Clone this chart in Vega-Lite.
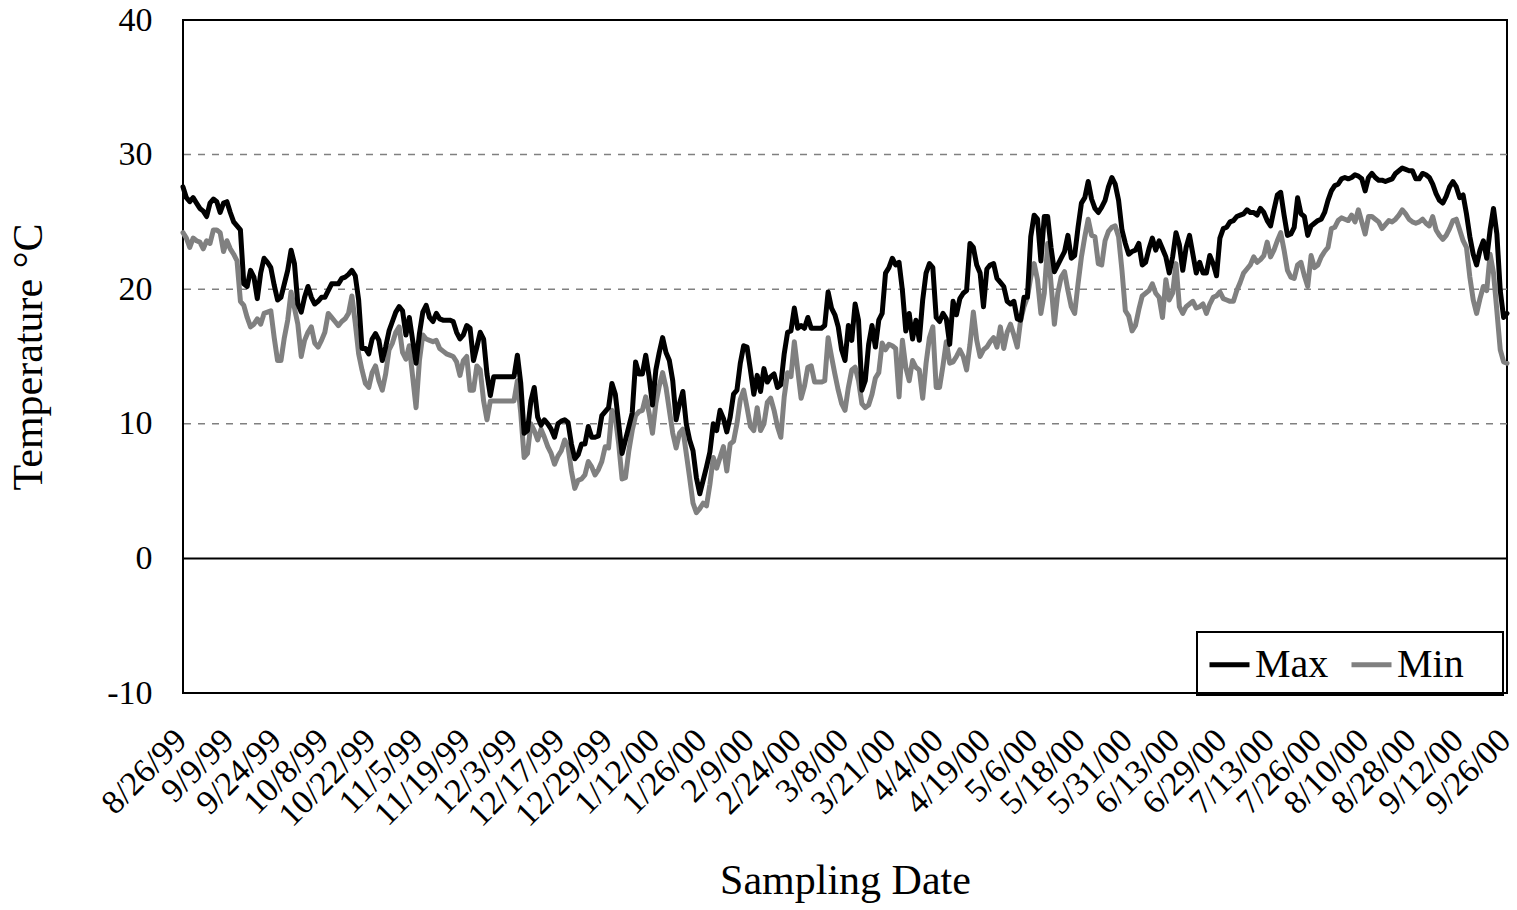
{
  "$schema": "https://vega.github.io/schema/vega-lite/v6.json",
  "width": 1324,
  "height": 673,
  "autosize": {"type": "none"},
  "padding": {"left": 183, "top": 20, "right": 10, "bottom": 217},
  "background": "#ffffff",
  "config": {
    "font": "Liberation Serif",
    "view": {"stroke": "#000000", "strokeWidth": 2},
    "axis": {
      "labelFont": "Liberation Serif",
      "titleFont": "Liberation Serif",
      "labelColor": "#000000",
      "titleColor": "#000000",
      "titleFontWeight": "normal",
      "labelFontSize": 34,
      "titleFontSize": 42,
      "grid": false,
      "ticks": false,
      "domain": false
    }
  },
  "datasets": {
    "temps": [
      {"n":0,"Max":27.6,"Min":24.2},{"n":1,"Max":26.8,"Min":23.8},{"n":2,"Max":26.5,"Min":23.1},{"n":3,"Max":26.8,"Min":23.8},{"n":4,"Max":26.4,"Min":23.6},
      {"n":5,"Max":26.0,"Min":23.5},{"n":6,"Max":25.8,"Min":23.0},{"n":7,"Max":25.4,"Min":23.6},{"n":8,"Max":26.4,"Min":23.4},{"n":9,"Max":26.7,"Min":24.4},
      {"n":10,"Max":26.5,"Min":24.4},{"n":11,"Max":25.7,"Min":24.2},{"n":12,"Max":26.4,"Min":22.8},{"n":13,"Max":26.5,"Min":23.6},{"n":14,"Max":25.7,"Min":23.0},
      {"n":15,"Max":25.0,"Min":22.6},{"n":16,"Max":24.7,"Min":22.1},{"n":17,"Max":24.4,"Min":19.1},{"n":18,"Max":20.4,"Min":18.8},{"n":19,"Max":20.2,"Min":17.9},
      {"n":20,"Max":21.4,"Min":17.2},{"n":21,"Max":20.9,"Min":17.4},{"n":22,"Max":19.3,"Min":17.8},{"n":23,"Max":21.2,"Min":17.4},{"n":24,"Max":22.3,"Min":18.2},
      {"n":25,"Max":22.0,"Min":18.3},{"n":26,"Max":21.6,"Min":18.4},{"n":27,"Max":20.3,"Min":16.4},{"n":28,"Max":19.2,"Min":14.7},{"n":29,"Max":19.4,"Min":14.7},
      {"n":30,"Max":20.4,"Min":16.4},{"n":31,"Max":21.4,"Min":17.7},{"n":32,"Max":22.9,"Min":19.8},{"n":33,"Max":21.9,"Min":18.6},{"n":34,"Max":18.9,"Min":17.4},
      {"n":35,"Max":18.3,"Min":15.0},{"n":36,"Max":19.4,"Min":16.2},{"n":37,"Max":20.2,"Min":16.8},{"n":38,"Max":19.4,"Min":17.2},{"n":39,"Max":18.9,"Min":16.0},
      {"n":40,"Max":19.1,"Min":15.7},{"n":41,"Max":19.4,"Min":16.2},{"n":42,"Max":19.4,"Min":16.8},{"n":43,"Max":19.9,"Min":18.2},{"n":44,"Max":20.4,"Min":17.9},
      {"n":45,"Max":20.4,"Min":17.6},{"n":46,"Max":20.4,"Min":17.3},{"n":47,"Max":20.8,"Min":17.6},{"n":48,"Max":20.9,"Min":17.8},{"n":49,"Max":21.1,"Min":18.2},
      {"n":50,"Max":21.4,"Min":19.5},{"n":51,"Max":21.0,"Min":17.5},{"n":52,"Max":19.2,"Min":15.2},{"n":53,"Max":15.6,"Min":14.0},{"n":54,"Max":15.6,"Min":13.0},
      {"n":55,"Max":15.2,"Min":12.7},{"n":56,"Max":16.3,"Min":13.8},{"n":57,"Max":16.7,"Min":14.3},{"n":58,"Max":16.2,"Min":13.2},{"n":59,"Max":14.7,"Min":12.5},
      {"n":60,"Max":15.7,"Min":13.7},{"n":61,"Max":16.9,"Min":15.5},{"n":62,"Max":17.6,"Min":16.0},{"n":63,"Max":18.3,"Min":16.8},{"n":64,"Max":18.7,"Min":17.2},
      {"n":65,"Max":18.4,"Min":15.3},{"n":66,"Max":16.6,"Min":14.8},{"n":67,"Max":17.9,"Min":15.8},{"n":68,"Max":16.2,"Min":13.5},{"n":69,"Max":14.5,"Min":11.2},
      {"n":70,"Max":16.7,"Min":14.7},{"n":71,"Max":18.3,"Min":16.6},{"n":72,"Max":18.8,"Min":16.3},{"n":73,"Max":17.9,"Min":16.2},{"n":74,"Max":17.6,"Min":16.1},
      {"n":75,"Max":18.2,"Min":16.2},{"n":76,"Max":17.8,"Min":15.6},{"n":77,"Max":17.7,"Min":15.4},{"n":78,"Max":17.7,"Min":15.2},{"n":79,"Max":17.7,"Min":15.1},
      {"n":80,"Max":17.6,"Min":15.0},{"n":81,"Max":16.8,"Min":14.6},{"n":82,"Max":16.3,"Min":13.6},{"n":83,"Max":16.6,"Min":14.7},{"n":84,"Max":17.3,"Min":15.0},
      {"n":85,"Max":17.1,"Min":12.5},{"n":86,"Max":14.7,"Min":12.5},{"n":87,"Max":15.7,"Min":14.3},{"n":88,"Max":16.8,"Min":14.0},{"n":89,"Max":16.3,"Min":11.7},
      {"n":90,"Max":13.7,"Min":10.3},{"n":91,"Max":12.1,"Min":11.7},{"n":92,"Max":13.5,"Min":11.7},{"n":93,"Max":13.5,"Min":11.7},{"n":94,"Max":13.5,"Min":11.7},
      {"n":95,"Max":13.5,"Min":11.7},{"n":96,"Max":13.5,"Min":11.7},{"n":97,"Max":13.5,"Min":11.7},{"n":98,"Max":13.5,"Min":11.7},{"n":99,"Max":15.1,"Min":13.2},
      {"n":100,"Max":13.0,"Min":10.8},{"n":101,"Max":9.3,"Min":7.5},{"n":102,"Max":9.5,"Min":7.8},{"n":103,"Max":11.7,"Min":10.0},{"n":104,"Max":12.7,"Min":9.5},
      {"n":105,"Max":10.5,"Min":8.8},{"n":106,"Max":9.9,"Min":9.6},{"n":107,"Max":10.3,"Min":9.0},{"n":108,"Max":10.0,"Min":8.3},{"n":109,"Max":9.6,"Min":7.8},
      {"n":110,"Max":9.0,"Min":7.0},{"n":111,"Max":10.0,"Min":7.6},{"n":112,"Max":10.2,"Min":8.0},{"n":113,"Max":10.3,"Min":8.8},{"n":114,"Max":10.1,"Min":8.3},
      {"n":115,"Max":8.5,"Min":6.5},{"n":116,"Max":7.4,"Min":5.2},{"n":117,"Max":7.7,"Min":5.8},{"n":118,"Max":8.5,"Min":5.9},{"n":119,"Max":8.5,"Min":6.2},
      {"n":120,"Max":9.8,"Min":7.2},{"n":121,"Max":9.0,"Min":6.8},{"n":122,"Max":9.0,"Min":6.2},{"n":123,"Max":9.1,"Min":6.6},{"n":124,"Max":10.6,"Min":7.2},
      {"n":125,"Max":10.9,"Min":8.3},{"n":126,"Max":11.2,"Min":8.2},{"n":127,"Max":13.0,"Min":11.0},{"n":128,"Max":12.2,"Min":10.5},{"n":129,"Max":10.0,"Min":8.5},
      {"n":130,"Max":7.8,"Min":5.9},{"n":131,"Max":8.8,"Min":6.0},{"n":132,"Max":9.8,"Min":8.0},{"n":133,"Max":10.8,"Min":9.5},{"n":134,"Max":14.6,"Min":10.6},
      {"n":135,"Max":13.7,"Min":10.9},{"n":136,"Max":13.7,"Min":11.0},{"n":137,"Max":15.1,"Min":12.0},{"n":138,"Max":13.5,"Min":10.8},{"n":139,"Max":11.4,"Min":9.3},
      {"n":140,"Max":14.0,"Min":11.5},{"n":141,"Max":15.3,"Min":12.8},{"n":142,"Max":16.4,"Min":13.8},{"n":143,"Max":15.3,"Min":12.7},{"n":144,"Max":14.7,"Min":11.0},
      {"n":145,"Max":13.2,"Min":9.3},{"n":146,"Max":10.3,"Min":8.2},{"n":147,"Max":11.5,"Min":9.3},{"n":148,"Max":12.4,"Min":9.6},{"n":149,"Max":10.0,"Min":7.8},
      {"n":150,"Max":8.8,"Min":6.0},{"n":151,"Max":8.0,"Min":4.1},{"n":152,"Max":6.0,"Min":3.4},{"n":153,"Max":4.8,"Min":3.7},{"n":154,"Max":5.8,"Min":4.1},
      {"n":155,"Max":6.8,"Min":3.9},{"n":156,"Max":7.9,"Min":5.5},{"n":157,"Max":10.0,"Min":7.5},{"n":158,"Max":9.5,"Min":6.7},{"n":159,"Max":11.0,"Min":7.5},
      {"n":160,"Max":10.4,"Min":8.3},{"n":161,"Max":9.4,"Min":6.5},{"n":162,"Max":10.5,"Min":8.5},{"n":163,"Max":12.2,"Min":8.7},{"n":164,"Max":12.5,"Min":10.0},
      {"n":165,"Max":14.5,"Min":11.8},{"n":166,"Max":15.8,"Min":12.5},{"n":167,"Max":15.7,"Min":11.2},{"n":168,"Max":14.0,"Min":9.8},{"n":169,"Max":12.2,"Min":9.5},
      {"n":170,"Max":13.6,"Min":11.2},{"n":171,"Max":12.4,"Min":9.5},{"n":172,"Max":14.1,"Min":10.0},{"n":173,"Max":13.1,"Min":11.6},{"n":174,"Max":13.5,"Min":11.9},
      {"n":175,"Max":13.7,"Min":11.0},{"n":176,"Max":12.7,"Min":9.8},{"n":177,"Max":12.9,"Min":9.0},{"n":178,"Max":15.2,"Min":12.0},{"n":179,"Max":16.8,"Min":13.8},
      {"n":180,"Max":16.9,"Min":13.5},{"n":181,"Max":18.6,"Min":16.1},{"n":182,"Max":17.1,"Min":14.0},{"n":183,"Max":17.3,"Min":11.9},{"n":184,"Max":17.1,"Min":12.8},
      {"n":185,"Max":17.9,"Min":14.2},{"n":186,"Max":17.1,"Min":14.3},{"n":187,"Max":17.1,"Min":13.1},{"n":188,"Max":17.1,"Min":13.1},{"n":189,"Max":17.1,"Min":13.1},
      {"n":190,"Max":17.3,"Min":13.2},{"n":191,"Max":19.8,"Min":16.4},{"n":192,"Max":18.6,"Min":15.0},{"n":193,"Max":18.1,"Min":13.7},{"n":194,"Max":17.2,"Min":12.5},
      {"n":195,"Max":15.5,"Min":11.5},{"n":196,"Max":14.7,"Min":11.0},{"n":197,"Max":17.3,"Min":12.7},{"n":198,"Max":16.2,"Min":14.0},{"n":199,"Max":18.9,"Min":14.2},
      {"n":200,"Max":17.7,"Min":13.2},{"n":201,"Max":12.5,"Min":11.5},{"n":202,"Max":13.2,"Min":11.2},{"n":203,"Max":15.9,"Min":11.4},{"n":204,"Max":17.3,"Min":12.2},
      {"n":205,"Max":15.7,"Min":13.4},{"n":206,"Max":17.7,"Min":13.8},{"n":207,"Max":18.2,"Min":16.0},{"n":208,"Max":21.2,"Min":15.5},{"n":209,"Max":21.6,"Min":15.9},
      {"n":210,"Max":22.3,"Min":15.8},{"n":211,"Max":21.8,"Min":15.6},{"n":212,"Max":22.0,"Min":12.0},{"n":213,"Max":19.9,"Min":16.2},{"n":214,"Max":16.9,"Min":14.2},
      {"n":215,"Max":18.2,"Min":13.2},{"n":216,"Max":16.3,"Min":14.7},{"n":217,"Max":17.7,"Min":14.2},{"n":218,"Max":16.2,"Min":14.0},{"n":219,"Max":19.2,"Min":11.9},
      {"n":220,"Max":21.2,"Min":14.5},{"n":221,"Max":21.9,"Min":16.4},{"n":222,"Max":21.6,"Min":17.2},{"n":223,"Max":17.9,"Min":12.7},{"n":224,"Max":17.6,"Min":12.7},
      {"n":225,"Max":18.2,"Min":14.3},{"n":226,"Max":17.8,"Min":16.1},{"n":227,"Max":15.9,"Min":14.5},{"n":228,"Max":19.1,"Min":14.6},{"n":229,"Max":18.1,"Min":15.0},
      {"n":230,"Max":19.3,"Min":15.5},{"n":231,"Max":19.7,"Min":15.0},{"n":232,"Max":19.9,"Min":14.0},{"n":233,"Max":23.4,"Min":15.9},{"n":234,"Max":23.1,"Min":18.3},
      {"n":235,"Max":21.8,"Min":16.2},{"n":236,"Max":21.2,"Min":15.0},{"n":237,"Max":18.7,"Min":15.5},{"n":238,"Max":21.5,"Min":15.7},{"n":239,"Max":21.8,"Min":16.1},
      {"n":240,"Max":21.9,"Min":16.4},{"n":241,"Max":20.8,"Min":15.7},{"n":242,"Max":20.5,"Min":17.2},{"n":243,"Max":20.2,"Min":15.6},{"n":244,"Max":19.1,"Min":16.8},
      {"n":245,"Max":18.9,"Min":17.4},{"n":246,"Max":19.1,"Min":16.6},{"n":247,"Max":17.8,"Min":15.7},{"n":248,"Max":17.7,"Min":17.7},{"n":249,"Max":19.4,"Min":18.7},
      {"n":250,"Max":19.4,"Min":19.4},{"n":251,"Max":23.9,"Min":20.9},{"n":252,"Max":25.5,"Min":21.9},{"n":253,"Max":25.2,"Min":20.7},{"n":254,"Max":22.1,"Min":18.2},
      {"n":255,"Max":25.4,"Min":19.7},{"n":256,"Max":25.4,"Min":23.4},{"n":257,"Max":23.1,"Min":20.4},{"n":258,"Max":21.3,"Min":17.4},{"n":259,"Max":21.8,"Min":19.7},
      {"n":260,"Max":22.3,"Min":20.9},{"n":261,"Max":22.8,"Min":21.3},{"n":262,"Max":24.0,"Min":19.9},{"n":263,"Max":22.3,"Min":18.7},{"n":264,"Max":22.5,"Min":18.2},
      {"n":265,"Max":24.6,"Min":20.4},{"n":266,"Max":26.4,"Min":22.4},{"n":267,"Max":26.8,"Min":23.9},{"n":268,"Max":28.0,"Min":25.2},{"n":269,"Max":26.7,"Min":24.0},
      {"n":270,"Max":26.0,"Min":23.9},{"n":271,"Max":25.7,"Min":21.9},{"n":272,"Max":26.1,"Min":21.8},{"n":273,"Max":26.6,"Min":23.6},{"n":274,"Max":27.6,"Min":24.3},
      {"n":275,"Max":28.3,"Min":24.6},{"n":276,"Max":27.8,"Min":24.7},{"n":277,"Max":26.6,"Min":23.9},{"n":278,"Max":24.4,"Min":21.4},{"n":279,"Max":23.4,"Min":18.4},
      {"n":280,"Max":22.6,"Min":18.0},{"n":281,"Max":22.8,"Min":16.9},{"n":282,"Max":22.9,"Min":17.3},{"n":283,"Max":23.4,"Min":18.5},{"n":284,"Max":21.8,"Min":19.5},
      {"n":285,"Max":22.0,"Min":19.7},{"n":286,"Max":23.0,"Min":19.9},{"n":287,"Max":23.8,"Min":20.4},{"n":288,"Max":22.9,"Min":19.7},{"n":289,"Max":23.6,"Min":19.4},
      {"n":290,"Max":23.0,"Min":17.9},{"n":291,"Max":22.4,"Min":20.7},{"n":292,"Max":21.2,"Min":19.2},{"n":293,"Max":22.4,"Min":19.7},{"n":294,"Max":24.2,"Min":21.9},
      {"n":295,"Max":23.3,"Min":18.7},{"n":296,"Max":21.4,"Min":18.2},{"n":297,"Max":23.1,"Min":18.7},{"n":298,"Max":24.0,"Min":18.9},{"n":299,"Max":22.6,"Min":19.1},
      {"n":300,"Max":21.2,"Min":18.6},{"n":301,"Max":22.0,"Min":18.7},{"n":302,"Max":21.2,"Min":18.9},{"n":303,"Max":21.2,"Min":18.2},{"n":304,"Max":22.5,"Min":18.9},
      {"n":305,"Max":21.9,"Min":19.4},{"n":306,"Max":21.0,"Min":19.5},{"n":307,"Max":23.8,"Min":19.8},{"n":308,"Max":24.5,"Min":19.3},{"n":309,"Max":24.6,"Min":19.2},
      {"n":310,"Max":25.0,"Min":19.1},{"n":311,"Max":25.1,"Min":19.1},{"n":312,"Max":25.4,"Min":19.9},{"n":313,"Max":25.5,"Min":20.5},{"n":314,"Max":25.6,"Min":21.2},
      {"n":315,"Max":25.9,"Min":21.5},{"n":316,"Max":25.7,"Min":21.8},{"n":317,"Max":25.7,"Min":22.4},{"n":318,"Max":25.5,"Min":22.0},{"n":319,"Max":26.0,"Min":22.2},
      {"n":320,"Max":25.7,"Min":22.5},{"n":321,"Max":25.1,"Min":23.5},{"n":322,"Max":24.7,"Min":22.4},{"n":323,"Max":25.9,"Min":22.9},{"n":324,"Max":27.0,"Min":23.6},
      {"n":325,"Max":27.2,"Min":24.2},{"n":326,"Max":25.5,"Min":22.9},{"n":327,"Max":24.0,"Min":21.4},{"n":328,"Max":24.1,"Min":20.9},{"n":329,"Max":24.6,"Min":20.8},
      {"n":330,"Max":26.8,"Min":21.8},{"n":331,"Max":25.6,"Min":22.0},{"n":332,"Max":25.4,"Min":21.0},{"n":333,"Max":24.0,"Min":20.2},{"n":334,"Max":24.7,"Min":22.5},
      {"n":335,"Max":24.9,"Min":21.6},{"n":336,"Max":25.1,"Min":21.8},{"n":337,"Max":25.2,"Min":22.4},{"n":338,"Max":25.7,"Min":22.8},{"n":339,"Max":26.6,"Min":23.1},
      {"n":340,"Max":27.3,"Min":24.5},{"n":341,"Max":27.7,"Min":24.6},{"n":342,"Max":27.8,"Min":25.1},{"n":343,"Max":28.2,"Min":25.3},{"n":344,"Max":28.3,"Min":25.2},
      {"n":345,"Max":28.2,"Min":25.1},{"n":346,"Max":28.3,"Min":25.5},{"n":347,"Max":28.5,"Min":25.0},{"n":348,"Max":28.4,"Min":25.9},{"n":349,"Max":28.2,"Min":25.0},
      {"n":350,"Max":27.3,"Min":24.1},{"n":351,"Max":28.3,"Min":25.4},{"n":352,"Max":28.6,"Min":25.4},{"n":353,"Max":28.3,"Min":25.2},{"n":354,"Max":28.1,"Min":25.0},
      {"n":355,"Max":28.1,"Min":24.5},{"n":356,"Max":28.0,"Min":24.8},{"n":357,"Max":28.1,"Min":25.1},{"n":358,"Max":28.2,"Min":25.0},{"n":359,"Max":28.6,"Min":25.2},
      {"n":360,"Max":28.8,"Min":25.5},{"n":361,"Max":29.0,"Min":25.9},{"n":362,"Max":28.9,"Min":25.6},{"n":363,"Max":28.8,"Min":25.2},{"n":364,"Max":28.8,"Min":25.0},
      {"n":365,"Max":28.2,"Min":24.9},{"n":366,"Max":28.2,"Min":25.0},{"n":367,"Max":28.6,"Min":25.2},{"n":368,"Max":28.5,"Min":24.9},{"n":369,"Max":28.3,"Min":24.7},
      {"n":370,"Max":27.8,"Min":25.4},{"n":371,"Max":27.1,"Min":24.4},{"n":372,"Max":26.6,"Min":24.0},{"n":373,"Max":26.4,"Min":23.7},{"n":374,"Max":26.9,"Min":24.0},
      {"n":375,"Max":27.6,"Min":24.5},{"n":376,"Max":28.0,"Min":25.1},{"n":377,"Max":27.6,"Min":25.2},{"n":378,"Max":26.8,"Min":24.4},{"n":379,"Max":27.0,"Min":23.6},
      {"n":380,"Max":25.6,"Min":23.1},{"n":381,"Max":23.9,"Min":20.9},{"n":382,"Max":22.6,"Min":19.2},{"n":383,"Max":21.8,"Min":18.2},{"n":384,"Max":22.9,"Min":19.3},
      {"n":385,"Max":23.6,"Min":20.2},{"n":386,"Max":22.3,"Min":19.9},{"n":387,"Max":24.4,"Min":22.6},{"n":388,"Max":26.0,"Min":21.2},{"n":389,"Max":24.1,"Min":18.4},
      {"n":390,"Max":19.9,"Min":15.5},{"n":391,"Max":17.9,"Min":14.6},{"n":392,"Max":18.2,"Min":14.5}
    ]
  },
  "layer": [
    {
      "data": {"values": [{"g": 10}, {"g": 20}, {"g": 30}]},
      "mark": {"type": "rule", "color": "#808080", "strokeWidth": 1.5, "strokeDash": [7, 7]},
      "encoding": {
        "y": {
          "field": "g",
          "type": "quantitative",
          "scale": {"domain": [-10, 40], "nice": false},
          "axis": {
            "title": "Temperature °C",
            "values": [-10, 0, 10, 20, 30, 40],
            "labelExpr": "'' + datum.value",
            "labelPadding": 31,
            "titlePadding": 56
          }
        }
      }
    },
    {
      "data": {"values": [{"g": 0}]},
      "mark": {"type": "rule", "color": "#000000", "strokeWidth": 2},
      "encoding": {
        "y": {"field": "g", "type": "quantitative", "title": "Temperature °C"}
      }
    },
    {
      "data": {"name": "temps"},
      "transform": [{"fold": ["Min", "Max"], "as": ["series", "temp"]}],
      "mark": {"type": "line", "strokeWidth": 5, "strokeJoin": "round", "strokeCap": "round"},
      "encoding": {
        "x": {
          "field": "n",
          "type": "quantitative",
          "scale": {"domain": [0, 392], "nice": false, "zero": false},
          "axis": {
            "title": "Sampling Date",
            "values": [0, 14, 28, 42, 56, 70, 84, 98, 112, 126, 140, 154, 168, 182, 196, 210, 224, 238, 252, 266, 280, 294, 308, 322, 336, 350, 364, 378, 392],
            "labelExpr": "['8/26/99','9/9/99','9/24/99','10/8/99','10/22/99','11/5/99','11/19/99','12/3/99','12/17/99','12/29/99','1/12/00','1/26/00','2/9/00','2/24/00','3/8/00','3/21/00','4/4/00','4/19/00','5/6/00','5/18/00','5/31/00','6/13/00','6/29/00','7/13/00','7/26/00','8/10/00','8/28/00','9/12/00','9/26/00'][round(datum.value / 14)]",
            "labelAngle": -45,
            "labelAlign": "right",
            "labelBaseline": "top",
            "labelPadding": 30,
            "labelOffset": -14,
            "labelFlush": false,
            "labelOverlap": false,
            "labelBound": false,
            "titlePadding": 28
          }
        },
        "y": {
          "field": "temp",
          "type": "quantitative",
          "title": "Temperature °C",
          "scale": {"domain": [-10, 40], "nice": false}
        },
        "color": {
          "field": "series",
          "type": "nominal",
          "scale": {"domain": ["Max", "Min"], "range": ["#000000", "#808080"]},
          "legend": {
            "title": null,
            "orient": "none",
            "legendX": 1014,
            "legendY": 612,
            "direction": "horizontal",
            "strokeColor": "#000000",
            "padding": 10,
            "symbolType": "stroke",
            "symbolSize": 1600,
            "symbolStrokeWidth": 5,
            "labelFont": "Liberation Serif",
            "labelFontSize": 40,
            "labelColor": "#000000",
            "labelOffset": 3,
            "columnPadding": 12,
            "labelExpr": "datum.label === 'Min' ? 'Min\u2800' : datum.label",
            "encode": {"legend": {"update": {"strokeWidth": {"value": 2}}}}
          }
        }
      }
    }
  ]
}
